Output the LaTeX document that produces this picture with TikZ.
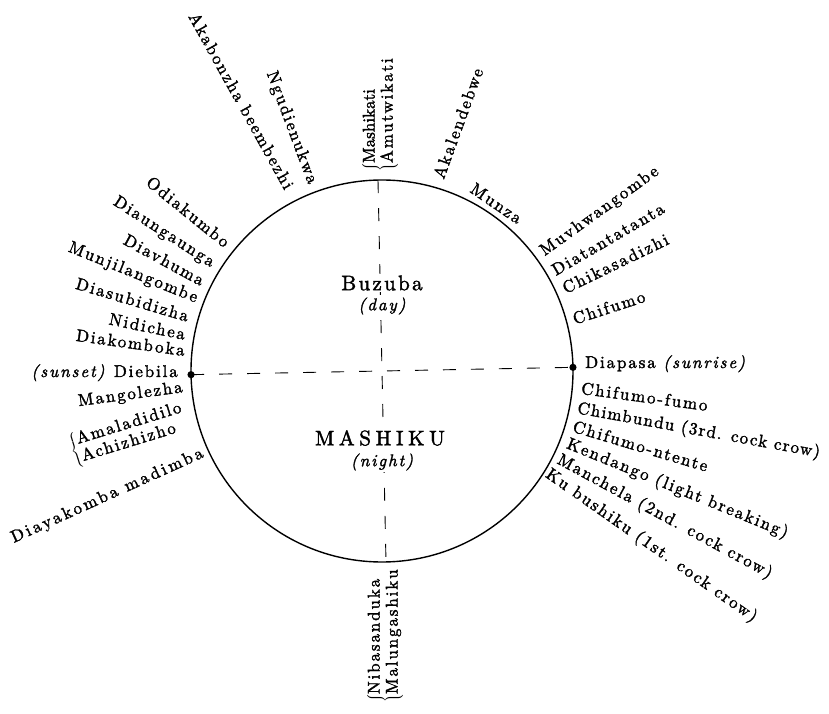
\documentclass[tikz,border=0pt]{standalone}
\usepackage{fontspec}
\setmainfont{lmroman10-regular.otf}[ItalicFont=lmroman10-italic.otf,BoldFont=lmroman10-bold.otf,LetterSpace=11,FakeBold=1.8]
\begin{document}
\begin{tikzpicture}[x=1pt,y=1pt,
  lab/.style={font=\fontsize{17}{18}\selectfont, inner sep=0pt},
  mid/.style={font=\fontsize{21}{23}\selectfont, fill=white, inner sep=2pt},
  midit/.style={font=\fontsize{17}{19}\selectfont\itshape, fill=white, inner sep=2pt},
  ax/.style={line width=0.9pt, dash pattern=on 13pt off 15pt},
  rim/.style={line width=1.4pt}]
\useasboundingbox (-382,-343) rectangle (447,371);
\coordinate (O) at (0,0);
\coordinate (E) at (1.1:191);
\coordinate (W) at (181.1:191);
\coordinate (N) at (91.2:191);
\coordinate (S) at (271.2:191);
\draw[rim] (O) circle (191);
\draw[ax] (W) -- (E);
\draw[ax] (N) -- (S);
\fill (E) circle (3.6);
\fill (W) circle (3.6);
% interior
\node[mid] (buz) at (0,88) {Buzuba};
\node[midit] (day) at (0,65) {(day)};
\node[mid, font=\fontsize{21}{23}\selectfont\addfontfeature{LetterSpace=22}] (mku) at (-2,-67) {MASHIKU};
\node[midit] (night) at (0,-91) {(night)};
% top
\node[lab, anchor=east, rotate=-61] (akab) at (116.7:205) {Akabonzha beembezhi};
\node[lab, anchor=east, rotate=-69.5] (ngud) at (110.4:200) {Ngudienukwa};
\node[lab, anchor=west, rotate=90] (mash) at (-2,199) {$\left\{\begin{tabular}{@{}l@{}}{\addfontfeature{LetterSpace=0}Mashikati}\\Amutwikati\end{tabular}\right.$};
\node[lab, anchor=west, rotate=70] (akal) at (73.8:201) {Akalendebwe};
\node[lab, rotate=-34.3] (munz) at (55.7:203) {Munza};
% right
\node[lab, anchor=west, rotate=35.7] (muvh) at (36.4:199) {Muvhwangombe};
\node[lab, anchor=west, rotate=30.2] (diat) at (30.3:198) {Diatantatanta};
\node[lab, anchor=west, rotate=25.8] (chik) at (24.4:199) {Chikasadizhi};
\node[lab, anchor=west, rotate=18] (chif) at (15.2:198) {Chifumo};
\node[lab, anchor=base west] (diap) at (203,3) {Diapasa \textit{(sunrise)}};
\node[lab, anchor=west, rotate=-7.7] (chff) at (-4.9:200) {Chifumo-fumo};
\node[lab, anchor=west, rotate=-10.3, font=\fontsize{17}{18}\selectfont\addfontfeature{LetterSpace=8}] (chim) at (-11:199) {Chimbundu (3rd. cock crow)};
\node[lab, anchor=west, rotate=-16.7] (chnt) at (-16:199) {Chifumo-ntente};
\node[lab, anchor=west, rotate=-22.2] (kend) at (-21.5:199) {Kendango (light breaking)};
\node[lab, anchor=west, rotate=-28.5] (manc) at (-26.6:197) {Manchela (2nd. cock crow)};
\node[lab, anchor=west, rotate=-35] (kubu) at (-31.7:194) {Ku bushiku (1st. cock crow)};
% bottom
\node[lab, anchor=east, rotate=90] (niba) at (3,-197) {$\left\{\begin{tabular}{@{}l@{}}Nibasanduka\\Malungashiku\end{tabular}\right.$};
% left
\node[lab, anchor=east, rotate=-39] (odia) at (140.5:200) {Odiakumbo};
\node[lab, anchor=east, rotate=-32.8] (diau) at (147.7:200) {Diaungaunga};
\node[lab, anchor=east, rotate=-28.6] (diav) at (153.3:200) {Diavhuma};
\node[lab, anchor=east, rotate=-21.9] (munj) at (158.7:198.5) {Munjilangombe};
\node[lab, anchor=east, rotate=-16.5] (dias) at (164.2:201) {Diasubidizha};
\node[lab, anchor=east, rotate=-11.6] (nidi) at (169.4:200) {Nidichea};
\node[lab, anchor=east, rotate=-8] (diak) at (174:198) {Diakomboka};
\node[lab, anchor=base east] (dieb) at (-204,-6) {\textit{(sunset)} Diebila};
\node[lab, anchor=east, rotate=7.6] (mang) at (184.9:200) {Mangolezha};
\node[lab, anchor=east, rotate=17] (amal) at (193.1:202) {$\left\{\begin{tabular}{@{}l@{}}Amaladidilo\\Achizhizho\end{tabular}\right.$};
\node[lab, anchor=east, rotate=24.3, font=\fontsize{17}{18}\selectfont\addfontfeature{LetterSpace=16}] (diay) at (204.6:197) {Diayakomba madimba};
\end{tikzpicture}
\end{document}
